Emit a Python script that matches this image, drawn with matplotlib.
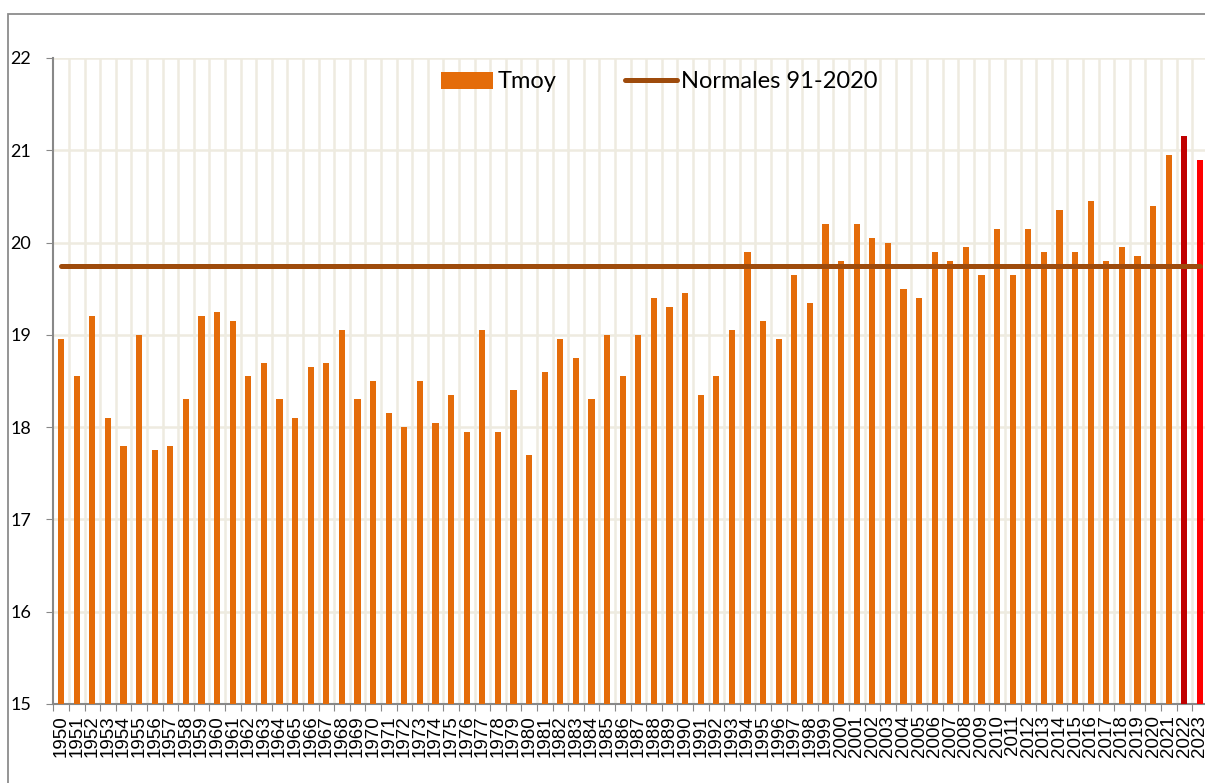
import numpy as np
import matplotlib.pyplot as plt
from matplotlib.patches import Patch, Rectangle
from matplotlib.lines import Line2D

# Data
years = list(range(1950, 2024))
tmoy = [18.95, 18.55, 19.2, 18.1, 17.8, 19.0, 17.75, 17.8, 18.3, 19.2,
        19.25, 19.15, 18.55, 18.7, 18.3, 18.1, 18.65, 18.7, 19.05, 18.3,
        18.5, 18.15, 18.0, 18.5, 18.05, 18.35, 17.95, 19.05, 17.95, 18.4,
        17.7, 18.6, 18.95, 18.75, 18.3, 19.0, 18.55, 19.0, 19.4, 19.3,
        19.45, 18.35, 18.55, 19.05, 19.9, 19.15, 18.95, 19.65, 19.35, 20.2,
        19.8, 20.2, 20.05, 20.0, 19.5, 19.4, 19.9, 19.8, 19.95, 19.65,
        20.15, 19.65, 20.15, 19.9, 20.35, 19.9, 20.45, 19.8, 19.95, 19.85,
        20.4, 20.95, 21.15, 20.9]
normale = 19.75

orange = '#E46C0A'
colors = [orange] * len(years)
colors[-2] = '#C00000'
colors[-1] = '#FF0000'

W, H = 1205, 783
fig = plt.figure(figsize=(W / 100, H / 100), dpi=100)
ax = fig.add_axes([53.3 / W, 1 - 704 / H, 1154.4 / W, 646 / H])

x = np.arange(len(years))
ax.bar(x, tmoy, width=0.4, color=colors, zorder=3)
ax.plot(x, [normale] * len(years), color='#9E4B0C', lw=3.6,
        solid_capstyle='round', zorder=4)

ax.set_xlim(-0.5, len(years) - 0.5)
ax.set_ylim(15, 22)
ax.set_yticks(range(15, 23))
ax.tick_params(axis='y', direction='out', length=5, color='#888888',
               pad=11, labelsize=13)
for lab in ax.get_yticklabels():
    lab.set_family('Lato')

# x ticks at category boundaries, labels at centres
ax.set_xticks(np.arange(-0.5, len(years)), minor=False)
ax.set_xticklabels([])
ax.set_xticks(x, minor=True)
ax.set_xticklabels([str(y) for y in years], minor=True, rotation=90,
                   fontsize=13.5, family='Liberation Sans')
ax.tick_params(axis='x', which='major', direction='out', length=5,
               color='#888888')
ax.tick_params(axis='x', which='minor', length=0, pad=8)

grid_c = '#EEEBE0'
for v in range(16, 23):
    ax.axhline(v, color=grid_c, lw=1.8, zorder=1)
for v in np.arange(0.5, len(years) - 0.5):
    ax.axvline(v, color=grid_c, lw=1.8, zorder=1)

for s in ['top', 'right']:
    ax.spines[s].set_visible(False)
for s in ['left', 'bottom']:
    ax.spines[s].set_color('#888888')
    ax.spines[s].set_linewidth(1.5)

handles = [Patch(facecolor=orange, edgecolor='none'),
           Line2D([], [], color='#9E4B0C', lw=3.6, solid_capstyle='round')]
leg = ax.legend(handles, ['Tmoy', 'Normales 91-2020'], ncol=2,
                loc='center', bbox_to_anchor=(0.525, 0.963), frameon=False,
                prop={'family': 'Lato', 'size': 17}, handlelength=2.2,
                handleheight=0.75, handletextpad=0.2, columnspacing=2.9)

# outer chart frame
fig.patches.append(Rectangle((8 / W, -0.1), 1.2, 1 - 14 / H + 0.1,
                             transform=fig.transFigure, fill=False,
                             edgecolor='#8C8C8C', lw=1.3))

fig.savefig('out.png', dpi=100)
